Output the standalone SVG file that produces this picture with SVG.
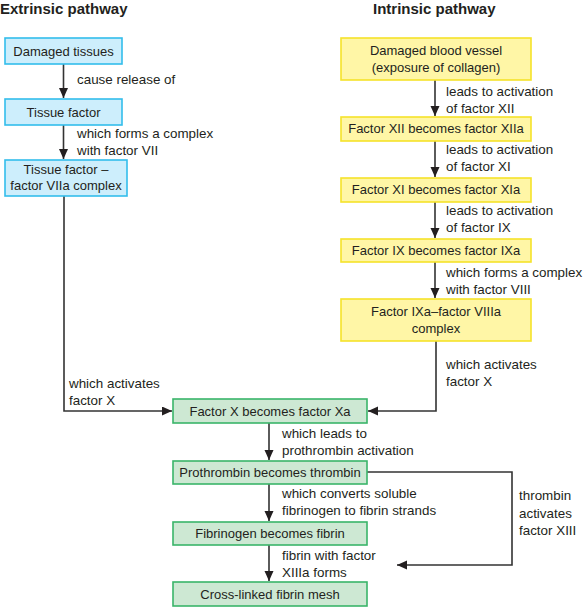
<svg xmlns="http://www.w3.org/2000/svg" width="584" height="607" viewBox="0 0 584 607">
<style>
text{font-family:"Liberation Sans",Arial,sans-serif;font-size:13px;fill:#231f20}
.l{font-size:13.4px}
.t{font-weight:bold;font-size:15px}
.c{text-anchor:middle}
.b rect{fill:#cdeefc;stroke:#33bdeb;stroke-width:1.6}
.y rect{fill:#fff6a6;stroke:#f5e32a;stroke-width:1.6}
.g rect{fill:#cde8d3;stroke:#3ab56a;stroke-width:1.6}
.ln{fill:none;stroke:#333;stroke-width:1.6}
</style>
<defs>
<marker id="ah" markerUnits="userSpaceOnUse" markerWidth="10" markerHeight="10" refX="10" refY="4.5" orient="auto">
<path d="M0,0L10,4.5L0,9z" fill="#231f20"/>
</marker>
</defs>
<rect width="584" height="607" fill="#fff"/>
<text class="t" x="0" y="14">Extrinsic pathway</text>
<text class="t" x="373" y="14">Intrinsic pathway</text>

<g id="connectors">
<path class="ln" d="M63.5,64V98" marker-end="url(#ah)"/>
<path class="ln" d="M63.5,125V159" marker-end="url(#ah)"/>
<path class="ln" d="M64,196V411H172" marker-end="url(#ah)"/>
<path class="ln" d="M435,80V116" marker-end="url(#ah)"/>
<path class="ln" d="M435,141V177" marker-end="url(#ah)"/>
<path class="ln" d="M435,202V238" marker-end="url(#ah)"/>
<path class="ln" d="M435,262V298" marker-end="url(#ah)"/>
<path class="ln" d="M436,341V411H368" marker-end="url(#ah)"/>
<path class="ln" d="M269,423V460" marker-end="url(#ah)"/>
<path class="ln" d="M269,484V521" marker-end="url(#ah)"/>
<path class="ln" d="M269,545V581" marker-end="url(#ah)"/>
<path class="ln" d="M367,472H512V565H397" marker-end="url(#ah)"/>
<text class="l" x="77" y="84">cause release of</text>
<text class="l" x="77" y="138">which forms a complex</text>
<text class="l" x="77" y="155">with factor VII</text>
<text class="l" x="69" y="388">which activates</text>
<text class="l" x="69" y="405">factor X</text>
<text class="l" x="446" y="96">leads to activation</text>
<text class="l" x="446" y="113">of factor XII</text>
<text class="l" x="446" y="154">leads to activation</text>
<text class="l" x="446" y="171">of factor XI</text>
<text class="l" x="446" y="215">leads to activation</text>
<text class="l" x="446" y="232">of factor IX</text>
<text class="l" x="446" y="277">which forms a complex</text>
<text class="l" x="446" y="294">with factor VIII</text>
<text class="l" x="446" y="369">which activates</text>
<text class="l" x="446" y="386">factor X</text>
<text class="l" x="282" y="438">which leads to</text>
<text class="l" x="282" y="455">prothrombin activation</text>
<text class="l" x="282" y="498">which converts soluble</text>
<text class="l" x="282" y="515">fibrinogen to fibrin strands</text>
<text class="l" x="282" y="560">fibrin with factor</text>
<text class="l" x="282" y="577">XIIIa forms</text>
<text class="l" x="519" y="500">thrombin</text>
<text class="l" x="519" y="518">activates</text>
<text class="l" x="519" y="535">factor XIII</text>
</g>

<g id="damaged-tissues" class="b"><rect x="5" y="38" width="117" height="26"/><text class="c" x="63.5" y="56">Damaged tissues</text></g>
<g id="tissue-factor" class="b"><rect x="5" y="99" width="117" height="26"/><text class="c" x="63.5" y="117">Tissue factor</text></g>
<g id="tf-complex" class="b"><rect x="5" y="160" width="122" height="36"/><text class="c" x="66" y="174">Tissue factor –</text><text class="c" x="66" y="190">factor VIIa complex</text></g>

<g id="damaged-vessel" class="y"><rect x="341" y="38" width="190" height="42"/><text class="c" x="436" y="55">Damaged blood vessel</text><text class="c" x="436" y="72">(exposure of collagen)</text></g>
<g id="factor-xii" class="y"><rect x="341" y="117" width="190" height="24"/><text class="c" x="436" y="133">Factor XII becomes factor XIIa</text></g>
<g id="factor-xi" class="y"><rect x="341" y="178" width="190" height="24"/><text class="c" x="436" y="194">Factor XI becomes factor XIa</text></g>
<g id="factor-ix" class="y"><rect x="341" y="239" width="190" height="23"/><text class="c" x="436" y="255">Factor IX becomes factor IXa</text></g>
<g id="ixa-viiia" class="y"><rect x="341" y="299" width="190" height="42"/><text class="c" x="436" y="316">Factor IXa–factor VIIIa</text><text class="c" x="436" y="333">complex</text></g>

<g id="factor-x" class="g"><rect x="173" y="399" width="194" height="24"/><text class="c" x="270" y="416">Factor X becomes factor Xa</text></g>
<g id="prothrombin" class="g"><rect x="173" y="461" width="194" height="23"/><text class="c" x="270" y="477">Prothrombin becomes thrombin</text></g>
<g id="fibrinogen" class="g"><rect x="173" y="522" width="194" height="23"/><text class="c" x="270" y="538">Fibrinogen becomes fibrin</text></g>
<g id="mesh" class="g"><rect x="173" y="582" width="194" height="24"/><text class="c" x="270" y="599">Cross-linked fibrin mesh</text></g>
</svg>
